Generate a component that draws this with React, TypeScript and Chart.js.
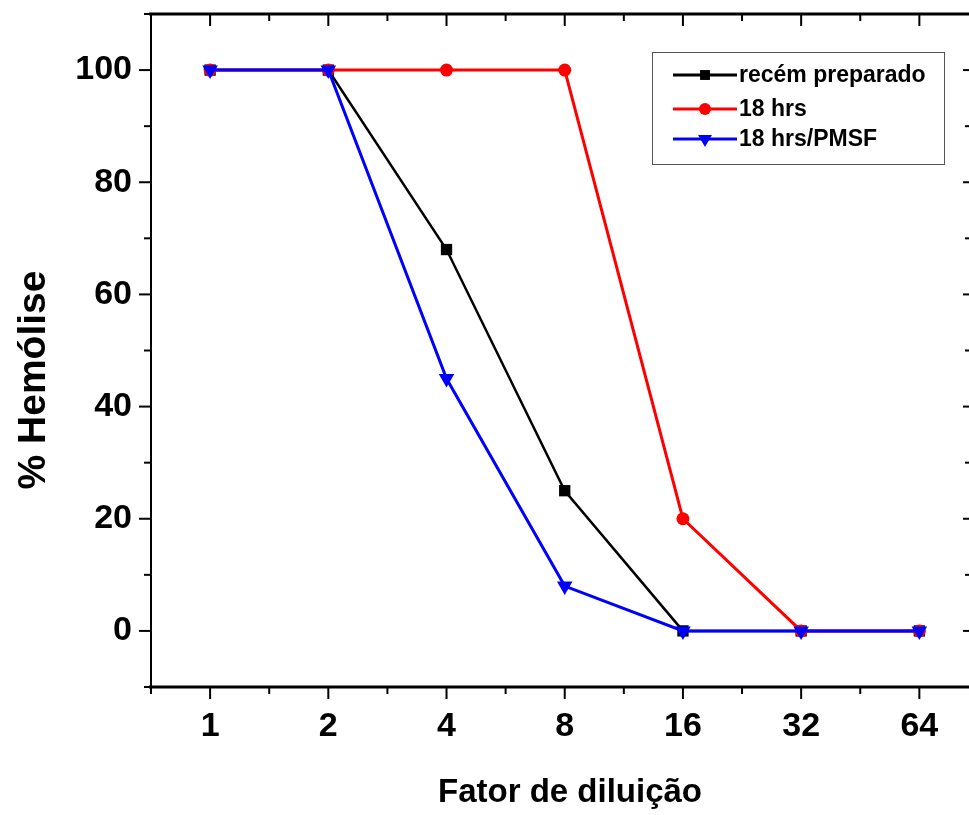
import React, { useEffect, useRef } from 'react';
import { Chart, registerables } from 'chart.js';

Chart.register(...registerables);

// ---- data ----
const categories = ['1', '2', '4', '8', '16', '32', '64'];
const recemPreparado = [100, 100, 68, 25, 0, 0, 0];
const hrs18 = [100, 100, 100, 100, 20, 0, 0];
const hrs18PMSF = [100, 100, 45, 8, 0, 0, 0];
const seriesNames = ['recém preparado', '18 hrs', '18 hrs/PMSF'];
const yTickValues = [0, 20, 40, 60, 80, 100];
const xTitle = 'Fator de diluição';
const yTitle = '% Hemólise';

const FONT = "'Liberation Sans', Arial, sans-serif";

const toPoints = (arr: number[]) => arr.map((v, i) => ({ x: i, y: v }));

function drawMarker(ctx: CanvasRenderingContext2D, style: string, x: number, y: number, r: number, color: string) {
  ctx.fillStyle = color;
  ctx.beginPath();
  if (style === 'rect') {
    const s = r * Math.SQRT1_2;
    ctx.rect(x - s, y - s, 2 * s, 2 * s);
  } else if (style === 'circle') {
    ctx.arc(x, y, r, 0, Math.PI * 2);
  } else {
    const h = (Math.sqrt(3) / 2) * r;
    ctx.moveTo(x - h, y - r / 2);
    ctx.lineTo(x + h, y - r / 2);
    ctx.lineTo(x, y + r);
    ctx.closePath();
  }
  ctx.fill();
}

const framePlugin = {
  id: 'originFrame',
  afterDatasetsDraw(chart: any) {
    const { ctx, chartArea } = chart;
    const { left, right, top, bottom } = chartArea;
    const xs = chart.scales.x;
    const ys = chart.scales.y;
    ctx.save();
    ctx.strokeStyle = '#000';
    const seg = (x1: number, y1: number, x2: number, y2: number) => {
      ctx.beginPath();
      ctx.moveTo(x1, y1);
      ctx.lineTo(x2, y2);
      ctx.stroke();
    };
    // x ticks (bottom outward, top inward)
    ctx.lineWidth = 2;
    for (let v = -0.5; v <= xs.max + 1e-9; v += 0.5) {
      const px = xs.getPixelForValue(v);
      const major = Number.isInteger(v);
      const len = major ? 12 : 7;
      seg(px, bottom, px, bottom + len);
      seg(px, top, px, top + len);
    }
    // y ticks (left outward, right inward)
    for (let v = ys.min; v <= ys.max + 1e-9; v += 10) {
      const py = ys.getPixelForValue(v);
      const major = v % 20 === 0;
      seg(left - (major ? 12 : 7), py, left, py);
      seg(right - (major ? 6 : 4), py, right, py);
    }
    // axis lines
    ctx.lineWidth = 3;
    seg(left - 2, top, right, top);
    seg(left - 2, bottom, right, bottom);
    ctx.lineWidth = 2;
    seg(left, top, left, bottom);

    // titles
    ctx.fillStyle = '#000';
    ctx.font = `bold 33px ${FONT}`;
    ctx.textAlign = 'center';
    ctx.textBaseline = 'alphabetic';
    ctx.fillText(xTitle, 570, 802);
    ctx.save();
    ctx.translate(45, 380);
    ctx.rotate(-Math.PI / 2);
    ctx.font = `bold 39px ${FONT}`;
    ctx.fillText(yTitle, 0, 0);
    ctx.restore();

    // legend box
    ctx.lineWidth = 1;
    ctx.strokeStyle = '#555';
    ctx.strokeRect(652.5, 52.5, 292, 112);
    const rowsY = [75, 109, 139];
    chart.data.datasets.forEach((ds: any, i: number) => {
      const yy = rowsY[i];
      ctx.strokeStyle = ds.borderColor;
      ctx.lineWidth = 3;
      seg(673, yy, 737, yy);
      const r = ds.pointStyle === 'circle' ? 6 : ds.pointStyle === 'rect' ? 7 : 8;
      drawMarker(ctx, ds.pointStyle, 705, yy, r, ds.borderColor);
      ctx.fillStyle = '#000';
      ctx.font = `bold 23px ${FONT}`;
      ctx.textAlign = 'left';
      ctx.textBaseline = 'middle';
      ctx.fillText(ds.label, 739, yy + 1);
    });
    ctx.restore();
  },
};

export default function App() {
  const canvasRef = useRef<HTMLCanvasElement | null>(null);

  useEffect(() => {
    const canvas = canvasRef.current;
    if (!canvas) return;
    const tickFont = { family: FONT, size: 34, weight: 'bold' as const, lineHeight: 1.2 };
    const chart = new Chart(canvas, {
      type: 'line',
      data: {
        datasets: [
          {
            label: seriesNames[0],
            data: toPoints(recemPreparado),
            borderColor: '#000000',
            backgroundColor: '#000000',
            borderWidth: 2.5,
            pointStyle: 'rect',
            pointRadius: 8,
            pointBorderWidth: 0,
            order: 3,
          },
          {
            label: seriesNames[1],
            data: toPoints(hrs18),
            borderColor: '#ff0000',
            backgroundColor: '#ff0000',
            borderWidth: 3,
            pointStyle: 'circle',
            pointRadius: 6.5,
            pointBorderWidth: 0,
            order: 2,
          },
          {
            label: seriesNames[2],
            data: toPoints(hrs18PMSF),
            borderColor: '#0000ff',
            backgroundColor: '#0000ff',
            borderWidth: 3,
            pointStyle: 'triangle',
            pointRotation: 180,
            pointRadius: 9,
            pointBorderWidth: 0,
            order: 1,
          },
        ],
      },
      options: {
        animation: false,
        responsive: false,
        layout: { autoPadding: false, padding: { top: 14, left: 0, right: 0, bottom: 0 } },
        elements: { line: { tension: 0 } },
        plugins: { legend: { display: false }, tooltip: { enabled: false } },
        scales: {
          x: {
            type: 'linear',
            min: -0.5,
            max: 6.42,
            grid: { display: false, drawTicks: false, tickLength: 0 },
            border: { display: false },
            afterBuildTicks: (s: any) => {
              s.ticks = categories.map((_, i) => ({ value: i }));
            },
            afterFit: (s: any) => {
              s.height = 128;
              s.paddingLeft = 0;
              s.paddingRight = 0;
              s.paddingTop = 0;
              s.paddingBottom = 0;
            },
            ticks: {
              callback: (v: any) => categories[v] ?? '',
              font: tickFont,
              color: '#000',
              padding: 19,
              maxRotation: 0,
              autoSkip: false,
            },
          },
          y: {
            type: 'linear',
            min: -10,
            max: 110,
            grid: { display: false, drawTicks: false, tickLength: 0 },
            border: { display: false },
            afterBuildTicks: (s: any) => {
              s.ticks = yTickValues.map((v) => ({ value: v }));
            },
            afterFit: (s: any) => {
              s.width = 151;
              s.paddingLeft = 0;
              s.paddingRight = 0;
              s.paddingTop = 0;
              s.paddingBottom = 0;
            },
            ticks: {
              font: tickFont,
              color: '#000',
              padding: 19,
            },
          },
        },
      },
      plugins: [framePlugin],
    });
    return () => chart.destroy();
  }, []);

  return (
    <div style={{ position: 'fixed', left: 0, top: 0, width: 969, height: 815, background: '#fff' }}>
      <canvas ref={canvasRef} width={969} height={815} style={{ display: 'block' }} />
    </div>
  );
}
